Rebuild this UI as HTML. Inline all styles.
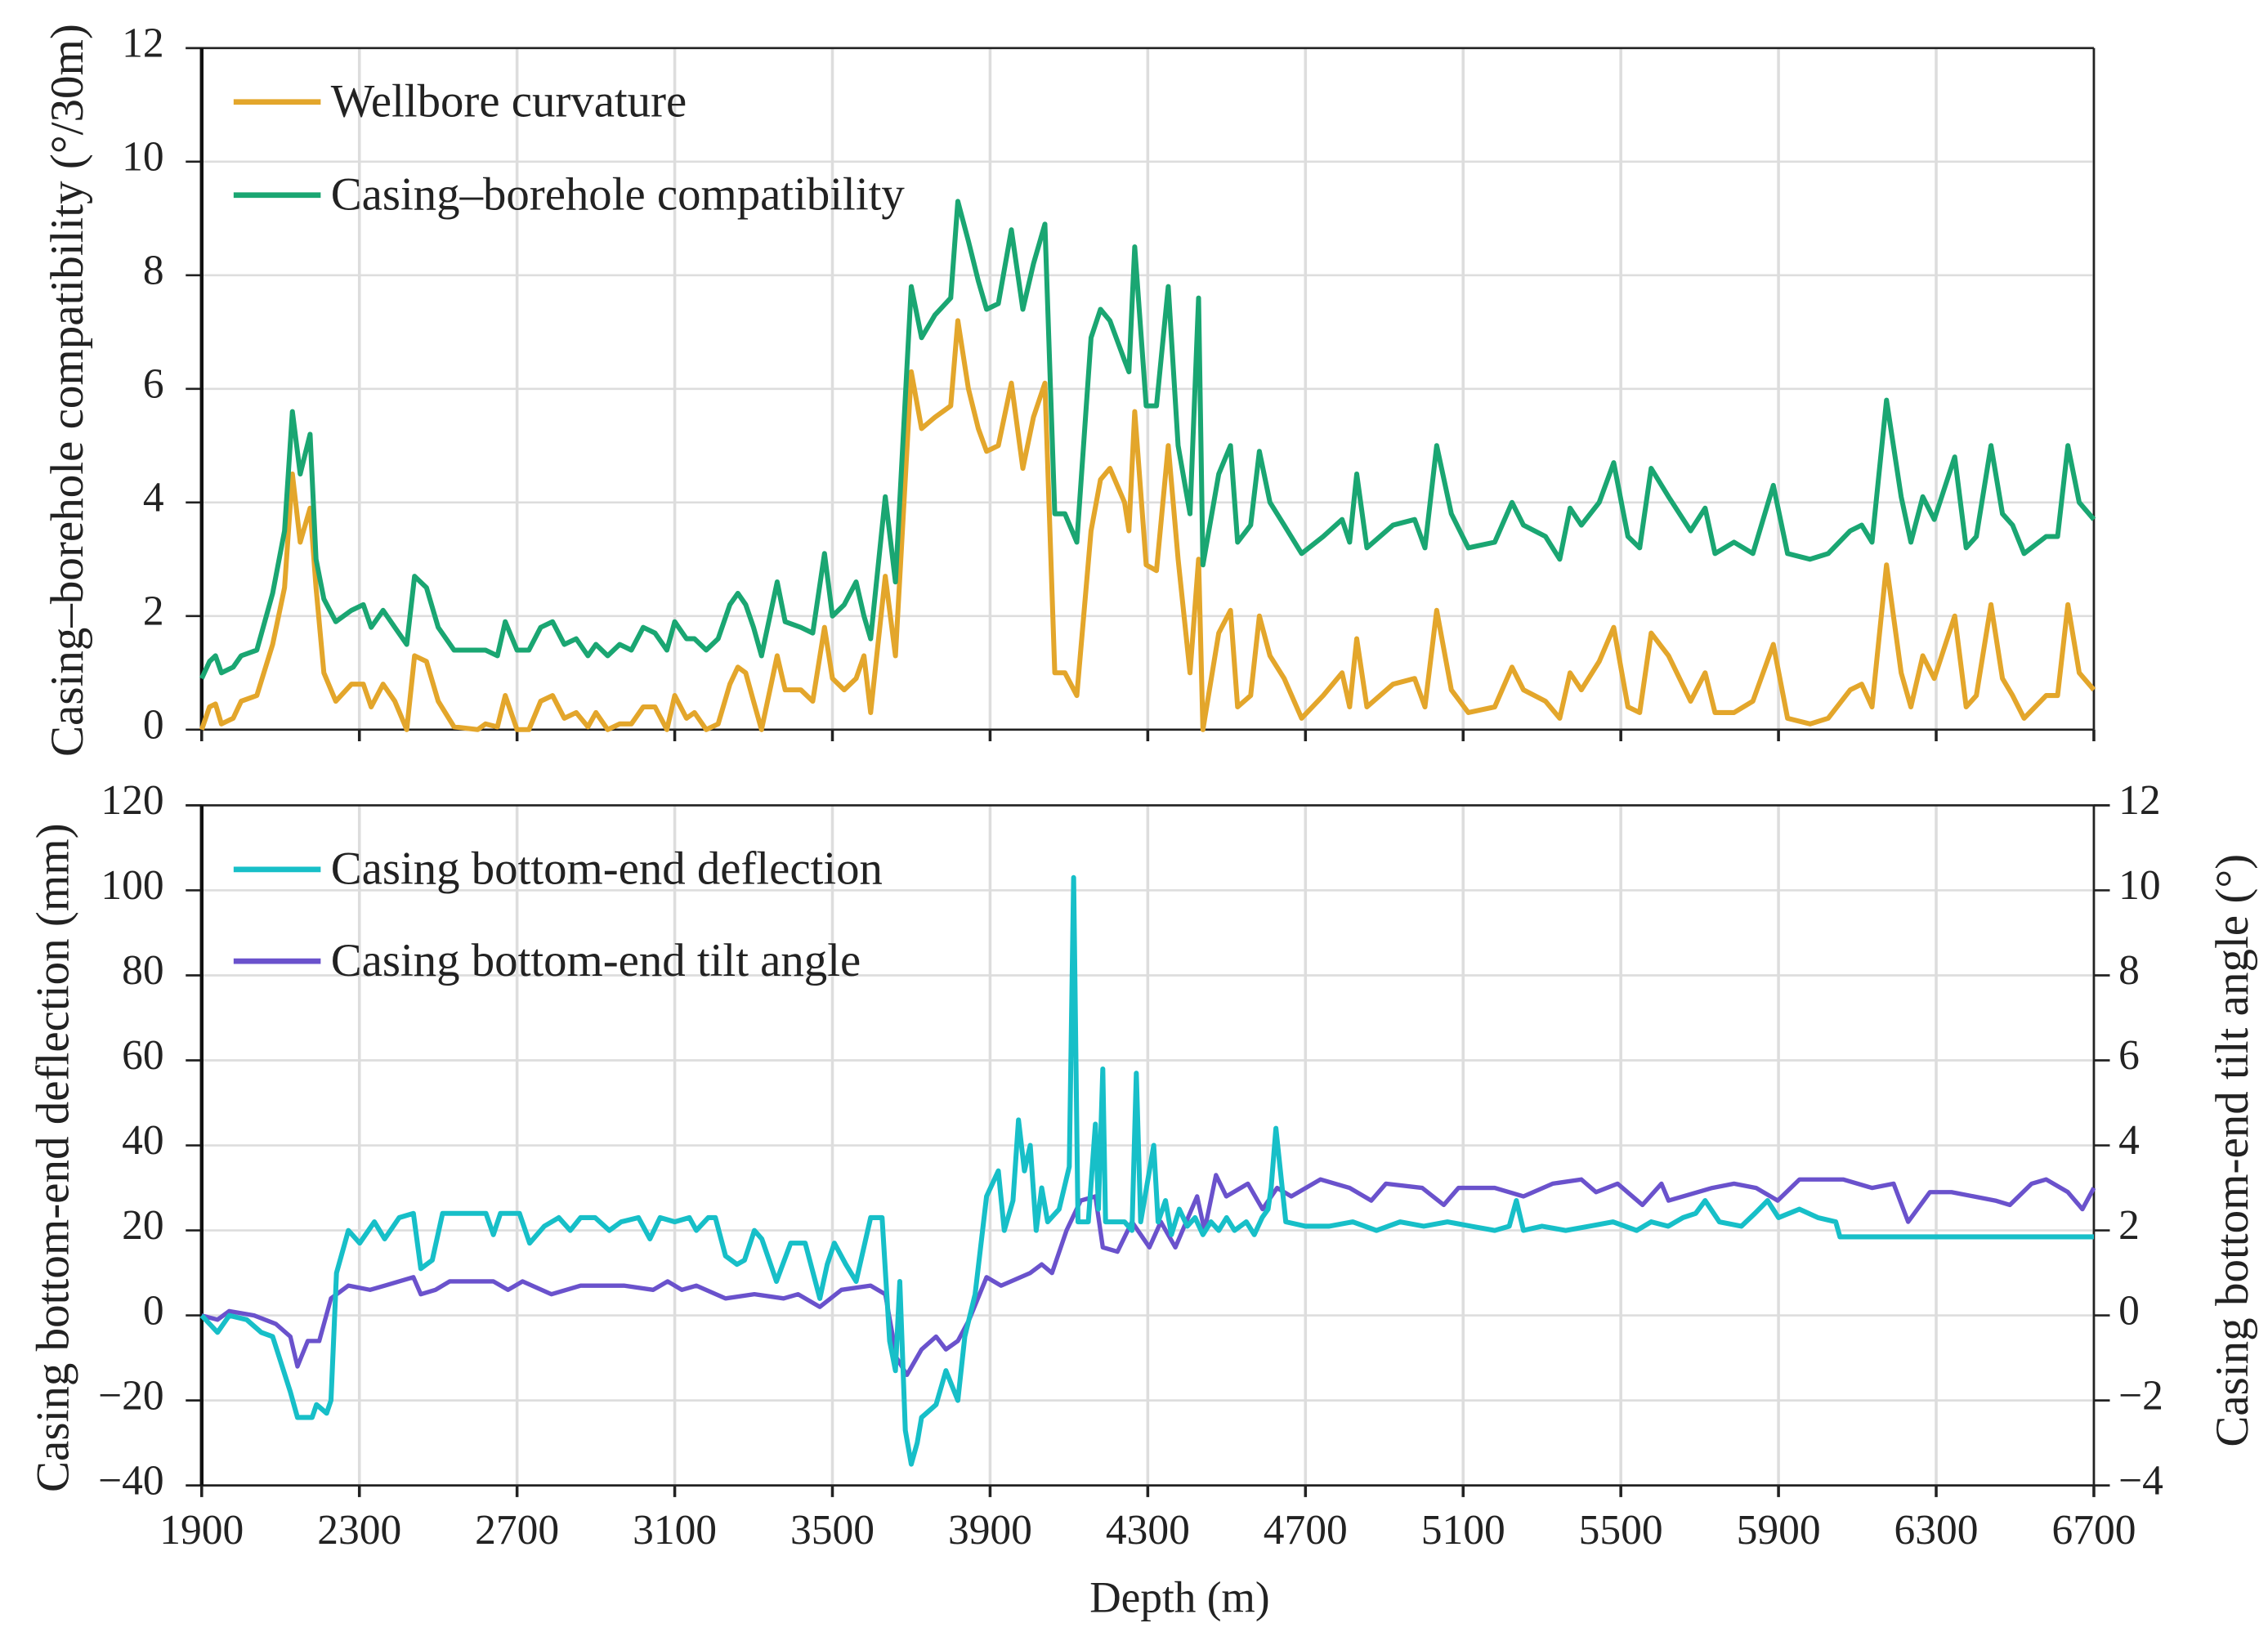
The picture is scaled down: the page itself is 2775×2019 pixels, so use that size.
<!DOCTYPE html>
<html><head><meta charset="utf-8"><style>
html,body{margin:0;padding:0;background:#fff;}
svg{display:block;}
text{font-family:"Liberation Serif",serif;fill:#222;}
</style></head><body>
<svg id="chart" width="2775" height="2019" viewBox="0 0 1563 1133" preserveAspectRatio="none" xmlns="http://www.w3.org/2000/svg"></svg>
<script>
const xTicks=[1900,2300,2700,3100,3500,3900,4300,4700,5100,5500,5900,6300,6700];
const topTicks=[0,2,4,6,8,10,12];
const leftTicks=[-40,-20,0,20,40,60,80,100,120];
const rightTicks=[-4,-2,0,2,4,6,8,10,12];
const curvDepth=[1900,1920,1935,1950,1980,2000,2040,2080,2110,2130,2150,2175,2190,2210,2240,2280,2310,2330,2360,2390,2420,2440,2470,2500,2540,2600,2620,2650,2670,2700,2730,2760,2790,2820,2850,2880,2900,2930,2960,2990,3020,3050,3080,3100,3130,3150,3180,3210,3240,3260,3280,3300,3320,3360,3380,3420,3450,3480,3500,3530,3560,3580,3597,3634,3660,3700,3726,3760,3800,3818,3845,3870,3891,3921,3954,3983,4010,4039,4064,4090,4120,4156,4180,4204,4241,4252,4267,4296,4322,4352,4377,4407,4429,4440,4480,4510,4528,4561,4583,4610,4646,4690,4745,4793,4812,4830,4856,4922,4977,5003,5033,5070,5113,5180,5224,5253,5309,5345,5371,5400,5445,5482,5518,5548,5577,5621,5677,5714,5739,5787,5835,5887,5923,5980,6026,6082,6111,6137,6174,6211,6236,6266,6295,6347,6376,6402,6439,6468,6494,6523,6579,6608,6634,6663,6700];
const curvValues=[0.0,0.4,0.45,0.1,0.2,0.5,0.6,1.5,2.5,4.5,3.3,3.9,2.5,1.0,0.5,0.8,0.8,0.4,0.8,0.5,0.0,1.3,1.2,0.5,0.05,0.0,0.1,0.05,0.6,0.0,0.0,0.5,0.6,0.2,0.3,0.05,0.3,0.0,0.1,0.1,0.4,0.4,0.0,0.6,0.2,0.3,0.0,0.1,0.8,1.1,1.0,0.5,0.0,1.3,0.7,0.7,0.5,1.8,0.9,0.7,0.9,1.3,0.3,2.7,1.3,6.3,5.3,5.5,5.7,7.2,6.0,5.3,4.9,5.0,6.1,4.6,5.5,6.1,1.0,1.0,0.6,3.5,4.4,4.6,4.0,3.5,5.6,2.9,2.8,5.0,3.0,1.0,3.0,0.0,1.7,2.1,0.4,0.6,2.0,1.3,0.9,0.2,0.6,1.0,0.4,1.6,0.4,0.8,0.9,0.4,2.1,0.7,0.3,0.4,1.1,0.7,0.5,0.2,1.0,0.7,1.2,1.8,0.4,0.3,1.7,1.3,0.5,1.0,0.3,0.3,0.5,1.5,0.2,0.1,0.2,0.7,0.8,0.4,2.9,1.0,0.4,1.3,0.9,2.0,0.4,0.6,2.2,0.9,0.6,0.2,0.6,0.6,2.2,1.0,0.7];
const compValues=[0.9,1.2,1.3,1.0,1.1,1.3,1.4,2.4,3.5,5.6,4.5,5.2,3.0,2.3,1.9,2.1,2.2,1.8,2.1,1.8,1.5,2.7,2.5,1.8,1.4,1.4,1.4,1.3,1.9,1.4,1.4,1.8,1.9,1.5,1.6,1.3,1.5,1.3,1.5,1.4,1.8,1.7,1.4,1.9,1.6,1.6,1.4,1.6,2.2,2.4,2.2,1.8,1.3,2.6,1.9,1.8,1.7,3.1,2.0,2.2,2.6,2.0,1.6,4.1,2.6,7.8,6.9,7.3,7.6,9.3,8.6,7.9,7.4,7.5,8.8,7.4,8.2,8.9,3.8,3.8,3.3,6.9,7.4,7.2,6.5,6.3,8.5,5.7,5.7,7.8,5.0,3.8,7.6,2.9,4.5,5.0,3.3,3.6,4.9,4.0,3.6,3.1,3.4,3.7,3.3,4.5,3.2,3.6,3.7,3.2,5.0,3.8,3.2,3.3,4.0,3.6,3.4,3.0,3.9,3.6,4.0,4.7,3.4,3.2,4.6,4.1,3.5,3.9,3.1,3.3,3.1,4.3,3.1,3.0,3.1,3.5,3.6,3.3,5.8,4.1,3.3,4.1,3.7,4.8,3.2,3.4,5.0,3.8,3.6,3.1,3.4,3.4,5.0,4.0,3.7];
const deflDepth=[1900,1940,1970,2014,2051,2080,2125,2143,2180,2191,2217,2228,2242,2272,2301,2338,2364,2401,2437,2456,2485,2511,2621,2640,2658,2706,2732,2769,2806,2835,2861,2898,2934,2964,3008,3037,3063,3100,3137,3155,3185,3203,3229,3258,3277,3302,3321,3358,3394,3431,3468,3487,3505,3534,3560,3597,3626,3645,3660,3671,3685,3700,3715,3726,3763,3788,3818,3836,3862,3891,3921,3936,3958,3972,3987,4002,4017,4031,4046,4075,4101,4112,4123,4149,4167,4175,4186,4193,4241,4260,4271,4282,4315,4326,4345,4360,4380,4400,4420,4440,4460,4480,4500,4520,4550,4570,4590,4605,4613,4625,4650,4700,4760,4820,4880,4940,5000,5060,5120,5180,5217,5235,5253,5300,5360,5420,5480,5540,5577,5620,5658,5690,5714,5750,5806,5840,5872,5900,5953,6000,6045,6056,6700];
const deflValues=[0,-4,0,-1,-4,-5,-18,-24,-24,-21,-23,-20,10,20,17,22,18,23,24,11,13,24,24,19,24,24,17,21,23,20,23,23,20,22,23,18,23,22,23,20,23,23,14,12,13,20,18,8,17,17,4,12,17,12,8,23,23,-6,-13,8,-27,-35,-30,-24,-21,-13,-20,-5,5,28,34,20,27,46,34,40,20,30,22,25,35,103,22,22,45,25,58,22,22,20,57,22,40,22,27,19,25,21,23,19,22,20,23,20,22,19,23,25,30,44,22,21,21,22,20,22,21,22,21,20,21,27,20,21,20,21,22,20,22,21,23,24,27,22,21,24,27,23,25,23,22,18.5,18.5];
const tiltDepth=[1900,1940,1970,2033,2088,2125,2143,2169,2198,2228,2272,2327,2364,2401,2437,2456,2493,2529,2566,2640,2677,2714,2787,2861,2971,3045,3082,3118,3155,3229,3302,3376,3413,3468,3523,3597,3634,3663,3689,3726,3763,3788,3818,3847,3891,3928,4002,4031,4057,4094,4130,4167,4186,4223,4260,4304,4333,4370,4425,4444,4473,4499,4554,4591,4628,4664,4738,4812,4867,4904,4996,5051,5088,5180,5253,5327,5400,5437,5492,5555,5603,5621,5658,5732,5787,5843,5898,5953,6064,6137,6192,6229,6284,6339,6394,6450,6487,6542,6579,6634,6671,6700];
const tiltValues=[0,-0.1,0.1,0,-0.2,-0.5,-1.2,-0.6,-0.6,0.4,0.7,0.6,0.7,0.8,0.9,0.5,0.6,0.8,0.8,0.8,0.6,0.8,0.5,0.7,0.7,0.6,0.8,0.6,0.7,0.4,0.5,0.4,0.5,0.2,0.6,0.7,0.5,-1.0,-1.4,-0.8,-0.5,-0.8,-0.6,-0.1,0.9,0.7,1.0,1.2,1.0,2.0,2.7,2.8,1.6,1.5,2.2,1.6,2.2,1.6,2.8,2.0,3.3,2.8,3.1,2.5,3.0,2.8,3.2,3.0,2.7,3.1,3.0,2.6,3.0,3.0,2.8,3.1,3.2,2.9,3.1,2.6,3.1,2.7,2.8,3.0,3.1,3.0,2.7,3.2,3.2,3.0,3.1,2.2,2.9,2.9,2.8,2.7,2.6,3.1,3.2,2.9,2.5,3.0,3.0];

const svg=document.getElementById('chart');
const NS='http://www.w3.org/2000/svg';
const L=139,R=1443,T1=33,B1=501,T2=553,B2=1020;
const xs=d=>L+(d-1900)/(6700-1900)*(R-L);
const y1=v=>B1-v/12*(B1-T1);
const y2=v=>B2-(v+40)/160*(B2-T2);
const y2r=v=>B2-(v+4)/16*(B2-T2);
function el(tag,attrs,parent){const e=document.createElementNS(NS,tag);for(const k in attrs)e.setAttribute(k,attrs[k]);(parent||svg).appendChild(e);return e;}
function txt(s,x,y,attrs){const t=el('text',Object.assign({x:x,y:y},attrs));t.textContent=s;return t;}

xTicks.forEach(d=>{
  const g1=el('line',{x1:xs(d),x2:xs(d),y1:T1,y2:B1,stroke:'#ddd','stroke-width':2});
  
  
  const g2=el('line',{x1:xs(d),x2:xs(d),y1:T2,y2:B2,stroke:'#ddd','stroke-width':2});
  
  
});
topTicks.forEach(v=>{
  const g=el('line',{x1:L,x2:R,y1:y1(v),y2:y1(v),stroke:'#ddd','stroke-width':1.5});
  
  
  const tk=el('line',{x1:L-11,x2:L,y1:y1(v),y2:y1(v),stroke:'#222','stroke-width':1.5});
  
  
  const t=txt(String(v),113,y1(v)+6,{'font-size':29,'text-anchor':'end'});
  
  
});
leftTicks.forEach(v=>{
  const g=el('line',{x1:L,x2:R,y1:y2(v),y2:y2(v),stroke:'#ddd','stroke-width':1.5});
  
  
  const tk=el('line',{x1:L-11,x2:L,y1:y2(v),y2:y2(v),stroke:'#222','stroke-width':1.5});
  
  
  const t=txt(String(v).replace('-','\u2212'),113,y2(v)+6,{'font-size':29,'text-anchor':'end'});
  
  
});
rightTicks.forEach(v=>{
  const tk=el('line',{x1:R,x2:R+11,y1:y2r(v),y2:y2r(v),stroke:'#222','stroke-width':1.5});
  
  
  const t=txt(String(v).replace('-','\u2212'),1460,y2r(v)+6,{'font-size':29,'text-anchor':'start'});
  
  
});
xTicks.forEach(d=>{
  const a=el('line',{x1:xs(d),x2:xs(d),y1:B1,y2:B1+8,stroke:'#222','stroke-width':2});
  
  
  const b=el('line',{x1:xs(d),x2:xs(d),y1:B2,y2:B2+8,stroke:'#222','stroke-width':2});
  
  
  const t=txt(String(d),xs(d),1060,{'font-size':29,'text-anchor':'middle'});
  
  
});
[[L-11,T1,R,T1],[R,T1,R,B1],[L,B1,R,B1],[L-11,T2,R+11,T2],[R,T2,R,B2],[L,B2,R,B2]].forEach(a=>{
  const f=el('line',{x1:a[0],y1:a[1],x2:a[2],y2:a[3],stroke:'#222','stroke-width':1.5});
  
  
});
[[T1,B1],[T2,B2]].forEach(a=>{
  const f=el('line',{x1:L,y1:a[0],x2:L,y2:a[1],stroke:'#111','stroke-width':2.5});
  
  
});

function series(dep,vals,yf,color,w,name){
  const pts=dep.map((d,i)=>xs(d).toFixed(1)+','+yf(vals[i]).toFixed(1)).join(' ');
  const p=el('polyline',{points:pts,fill:'none',stroke:color,'stroke-width':w,'stroke-linejoin':'round'});
  
  
}
series(curvDepth,curvValues,y1,'#E3A62B',3.4,'wellbore-curvature-line');
series(curvDepth,compValues,y1,'#1AA672',3.4,'compatibility-line');
series(tiltDepth,tiltValues,y2r,'#6A52CC',3,'tilt-angle-line');
series(deflDepth,deflValues,y2,'#17BFC8',3.4,'deflection-line');

const legends=[[70,'#E3A62B','Wellbore curvature','legend-wellbore-curvature'],[134,'#1AA672','Casing\u2013borehole compatibility','legend-compatibility'],[597,'#17BFC8','Casing bottom-end deflection','legend-deflection'],[660,'#6A52CC','Casing bottom-end tilt angle','legend-tilt-angle']];
legends.forEach(l=>{
  const g=el('g',{});
  
  
  el('line',{x1:161,x2:221,y1:l[0],y2:l[0],stroke:l[1],'stroke-width':3.8},g);
  const t=el('text',{x:228,y:l[0]+10,'font-size':32},g);t.textContent=l[2];
});

let t=txt('Casing\u2013borehole compatibility (\u00b0/30m)',0,0,{'font-size':32,'text-anchor':'middle',transform:'translate(57,268) rotate(-90)'});

t=txt('Casing bottom-end deflection (mm)',0,0,{'font-size':32,'text-anchor':'middle',transform:'translate(47,795) rotate(-90)'});

t=txt('Casing bottom-end tilt angle (\u00b0)',0,0,{'font-size':32,'text-anchor':'middle',transform:'translate(1549,790) rotate(-90)'});

t=txt('Depth (m)',813,1107,{'font-size':30,'text-anchor':'middle'});

</script>
</body></html>
